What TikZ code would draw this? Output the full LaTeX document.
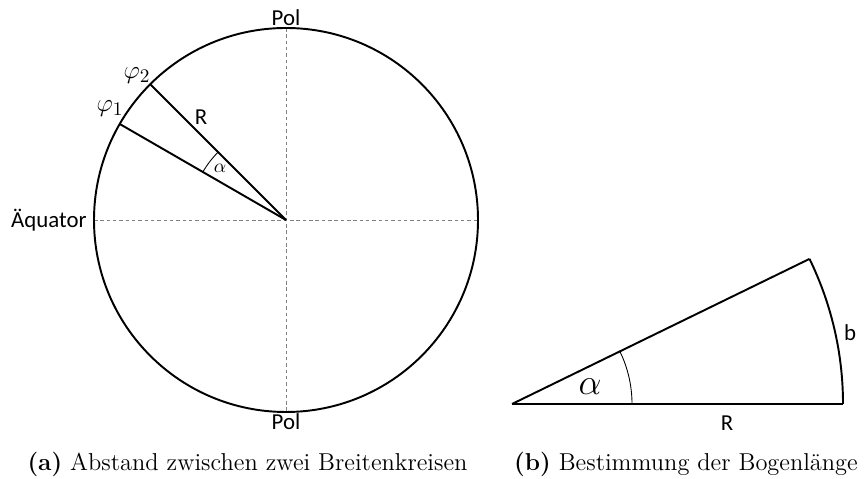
\documentclass[tikz,border=0pt]{standalone}
\usepackage{fontspec}
\setsansfont{Carlito}
\usetikzlibrary{calc,positioning}

\begin{document}
\begin{tikzpicture}[
  x=0.02cm, y=0.02cm,
  thickline/.style={line width=1.1pt, black},
  thinline/.style={line width=0.5pt, black},
  axisline/.style={gray, line width=0.45pt, dash pattern=on 2pt off 1.6pt},
  lbl/.style={font=\sffamily\fontsize{13}{15}\selectfont, inner sep=1pt},
  philbl/.style={font=\fontsize{15}{17}\selectfont, inner sep=1pt},
  caption/.style={font=\fontsize{13.9}{16}\selectfont, inner sep=0pt, anchor=base}
]
\useasboundingbox (0,0) rectangle (865,479);

%% (a) circle with two latitudes
\coordinate (M) at (286,259);
\coordinate (N) at ($(M)+(90:192)$);
\coordinate (S) at ($(M)+(270:192)$);
\coordinate (W) at ($(M)+(180:192)$);
\coordinate (E) at ($(M)+(0:192)$);
\coordinate (P2) at ($(M)+(135:192)$);
\coordinate (P1) at ($(M)+(150:192)$);

\draw[axisline] (W) -- (E);
\draw[axisline] (N) -- (S);
\draw[thickline] (M) circle[radius=192];
\draw[thickline] (M) -- (P2);
\draw[thickline] (M) -- (P1);
\draw[thinline] ($(M)+(135:96)$) arc[start angle=135, end angle=150, radius=96];

\node[lbl, above=0pt of N] (poltop) {Pol};
\node[lbl, below=0pt of S] (polbot) {Pol};
\node[lbl, left=3pt of W] (aequ) {Äquator};
\node[philbl] (phi2) at (137,403) {$\varphi_2$};
\node[philbl] (phi1) at (110,370) {$\varphi_1$};
\node[lbl] (rlabel) at (201,362) {R};
\node[font=\fontsize{11}{12}\selectfont] (alpha) at (220,311) {$\alpha$};

%% (b) circular sector
\coordinate (A) at (512,75);
\coordinate (B) at ($(A)+(0:331)$);
\coordinate (C) at ($(A)+(26:331)$);

\draw[thickline] (A) -- (B);
\draw[thickline] (A) -- (C);
\draw[thickline] (B) arc[start angle=0, end angle=26, radius=331];
\draw[thinline] ($(A)+(0:120)$) arc[start angle=0, end angle=26, radius=120];

\node[font=\fontsize{20}{22}\selectfont] (alphab) at (590,92) {$\alpha$};
\node[lbl] (blabel) at (850,146) {b};
\node[lbl] (rlabelb) at (727,56) {R};

%% captions
\node[caption] (capa) at (247.5,8) {\textbf{(a)} Abstand zwischen zwei Breitenkreisen};
\node[caption] (capb) at (686,8) {\textbf{(b)} Bestimmung der Bogenlänge};

\end{tikzpicture}
\end{document}
